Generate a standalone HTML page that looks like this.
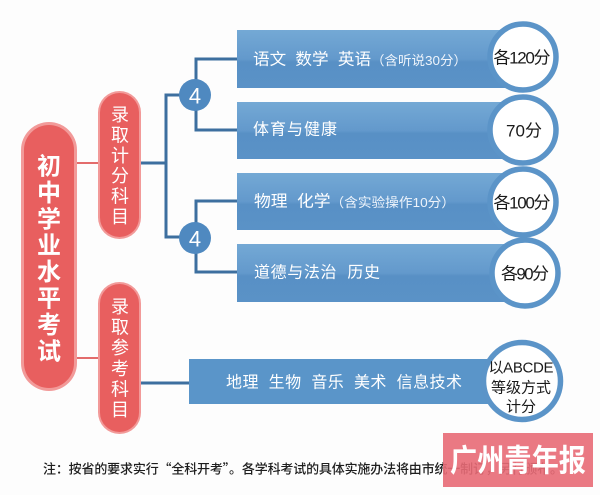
<!DOCTYPE html>
<html><head><meta charset="utf-8"><style>
html,body{margin:0;padding:0;background:#fdfdfd;}
svg{display:block;}
text{font-family:"Liberation Sans","Noto Sans CJK SC",sans-serif;white-space:pre;}
</style></head><body>
<svg width="600" height="495" viewBox="0 0 600 495" xmlns="http://www.w3.org/2000/svg" xml:space="preserve">
<defs>
<linearGradient id="bar" x1="0" y1="0" x2="0" y2="1">
<stop offset="0" stop-color="#74a9d5"/>
<stop offset="0.5" stop-color="#6399cc"/>
<stop offset="0.55" stop-color="#5890c5"/>
<stop offset="1" stop-color="#5a92c7"/>
</linearGradient>
</defs>
<rect width="600" height="495" fill="#fdfdfd"/>

<line x1="74" y1="163" x2="101" y2="163" stroke="#e36c6c" stroke-width="2"/>
<line x1="74" y1="358" x2="101" y2="358" stroke="#e36c6c" stroke-width="2"/>

<g stroke="#3d6f9f" stroke-width="3" fill="none">
<polyline points="139,163 166,163"/>
<polyline points="180,95 166,95 166,237 180,237"/>
<polyline points="237,59 196,59 196,130 237,130"/>
<polyline points="237,201 196,201 196,272 237,272"/>
<polyline points="139,383 190,383"/>
</g>

<rect x="237" y="30" width="290" height="58" fill="url(#bar)"/>
<rect x="237" y="102" width="290" height="57" fill="url(#bar)"/>
<rect x="237" y="173" width="290" height="57" fill="url(#bar)"/>
<rect x="237" y="244" width="290" height="58" fill="url(#bar)"/>
<rect x="189" y="359" width="335" height="45" fill="#5a95c9"/>

<g fill="#fff" font-size="16" dominant-baseline="central">
<text x="253" y="60" textLength="214" lengthAdjust="spacingAndGlyphs">语文  数学  英语<tspan font-size="13" fill="#eef4fb">（含听说30分）</tspan></text>
<text x="253" y="130" textLength="84">体育与健康</text>
<text x="254" y="202" textLength="201" lengthAdjust="spacingAndGlyphs">物理  化学<tspan font-size="13" fill="#eef4fb">（含实验操作10分）</tspan></text>
<text x="254" y="273" textLength="126">道德与法治  历史</text>
<text x="226" y="383" textLength="236">地理  生物  音乐  美术  信息技术</text>
</g>

<circle cx="195" cy="95" r="16" fill="#4f89c0"/>
<circle cx="195" cy="238" r="16" fill="#4f89c0"/>
<text x="195" y="96" fill="#fff" font-size="22" text-anchor="middle" dominant-baseline="central">4</text>
<text x="195" y="239" fill="#fff" font-size="22" text-anchor="middle" dominant-baseline="central">4</text>

<g fill="#fff" stroke="#5b94c8" stroke-width="5.5">
<circle cx="523" cy="57" r="33"/>
<circle cx="523" cy="130" r="33"/>
<circle cx="523" cy="202" r="33"/>
<circle cx="525" cy="273" r="33"/>
<circle cx="522" cy="381" r="38.5"/>
</g>
<g fill="#1a1a1a" font-size="17" text-anchor="middle" dominant-baseline="central">
<text x="522" y="58" textLength="57">各120分</text>
<text x="524" y="131" textLength="36">70分</text>
<text x="522" y="203" textLength="57">各100分</text>
<text x="525" y="274" textLength="48">各90分</text>
</g>
<g fill="#1a1a1a" font-size="15" text-anchor="middle" dominant-baseline="central">
<text x="521" y="368" textLength="65">以ABCDE</text>
<text x="521" y="388">等级方式</text>
<text x="521" y="407">计分</text>
</g>

<rect x="21" y="122" width="56" height="269" rx="28" fill="#f29a99"/>
<rect x="24" y="125" width="50" height="263" rx="25" fill="#e85f5f"/>
<rect x="98" y="91" width="43" height="148" rx="21.5" fill="#f29a99"/>
<rect x="100" y="93" width="39" height="144" rx="19.5" fill="#e85f5f"/>
<rect x="98" y="282" width="43" height="152" rx="21.5" fill="#f29a99"/>
<rect x="100" y="284" width="39" height="148" rx="19.5" fill="#e85f5f"/>

<g fill="#fff" font-size="24" font-weight="bold" text-anchor="middle" dominant-baseline="central">
<text x="49" y="167">初</text>
<text x="49" y="193.4">中</text>
<text x="49" y="219.8">学</text>
<text x="49" y="246.2">业</text>
<text x="49" y="272.6">水</text>
<text x="49" y="299">平</text>
<text x="49" y="325.4">考</text>
<text x="49" y="351.8">试</text>
</g>
<g fill="#fff" font-size="18" text-anchor="middle" dominant-baseline="central">
<text x="120" y="115">录</text>
<text x="120" y="135.4">取</text>
<text x="120" y="155.8">计</text>
<text x="120" y="176.2">分</text>
<text x="120" y="196.6">科</text>
<text x="120" y="217">目</text>
<text x="120" y="307">录</text>
<text x="120" y="327.6">取</text>
<text x="120" y="348.2">参</text>
<text x="120" y="368.8">考</text>
<text x="120" y="389.4">科</text>
<text x="120" y="410">目</text>
</g>

<text x="43" y="468" fill="#1e1e1e" font-size="13" font-weight="500" dominant-baseline="central" textLength="520" lengthAdjust="spacing" style="font-family:'Noto Sans CJK SC','Liberation Sans',sans-serif">注：按省的要求实行“全科开考”。各学科考试的具体实施办法将由市统一制订，另行颁布。</text>

<rect x="443" y="433" width="150" height="54" fill="#e86a76" fill-opacity="0.9"/>
<text x="518" y="461" fill="#fff" font-size="31" font-weight="bold" text-anchor="middle" dominant-baseline="central" textLength="136" lengthAdjust="spacingAndGlyphs">广州青年报</text>
</svg>
</body></html>
